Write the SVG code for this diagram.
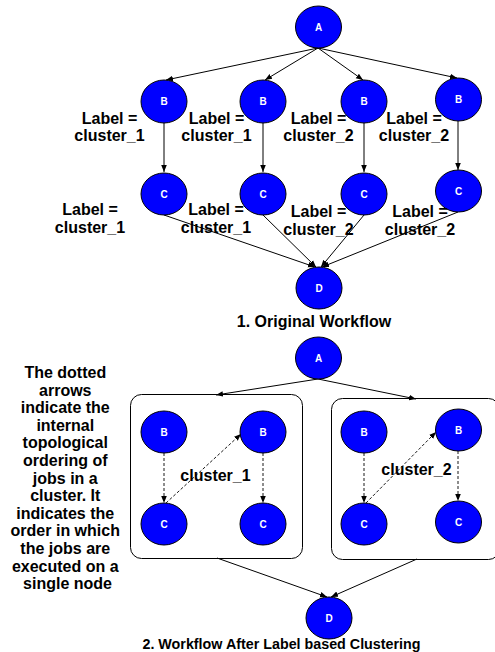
<svg xmlns="http://www.w3.org/2000/svg" width="495" height="652" viewBox="0 0 495 652">
  <style>
    .node ellipse { fill: #0000ff; stroke: #000; stroke-width: 1; }
    .node text { fill: #fff; font-family: "Liberation Sans", Arial, sans-serif; font-weight: bold; font-size: 10px; text-anchor: middle; }
    .lbl { fill: #000; font-family: "Liberation Sans", Arial, sans-serif; font-weight: bold; font-size: 16px; text-anchor: middle; }
    .edge { stroke: #000; stroke-width: 1; fill: none; marker-end: url(#arr); }
    .dash { stroke: #000; stroke-width: 0.9; fill: none; stroke-dasharray: 3 2; marker-end: url(#arr); }
    .box { fill: none; stroke: #000; stroke-width: 1; }
  </style>
  <defs>
    <marker id="arr" viewBox="0 0 10 10" refX="10" refY="5" markerWidth="7" markerHeight="7" markerUnits="userSpaceOnUse" orient="auto">
      <path d="M0,1 L10,5 L0,9 z" fill="#000"/>
    </marker>
  </defs>
  <rect width="495" height="652" fill="#fff"/>

  <!-- Part 1: original workflow -->
  <g id="connectors-1">
    <line class="edge" x1="318" y1="48" x2="166" y2="80"/>
    <line class="edge" x1="318" y1="48" x2="265" y2="80"/>
    <line class="edge" x1="318" y1="48" x2="363" y2="80"/>
    <line class="edge" x1="318" y1="48" x2="457" y2="78"/>
    <line class="edge" x1="164" y1="123" x2="164" y2="172"/>
    <line class="edge" x1="263" y1="123" x2="263" y2="172"/>
    <line class="edge" x1="364" y1="123" x2="364" y2="172"/>
    <line class="edge" x1="458" y1="121" x2="458" y2="170"/>
    <line class="edge" x1="164" y1="215" x2="315" y2="267"/>
    <line class="edge" x1="263" y1="215" x2="316" y2="267"/>
    <line class="edge" x1="364" y1="215" x2="321" y2="267"/>
    <line class="edge" x1="458" y1="212" x2="322" y2="267"/>
  </g>

  <g id="p1-A" class="node"><ellipse cx="318.5" cy="27" rx="23" ry="21"/><text x="318.5" y="31">A</text></g>
  <g id="p1-B1" class="node"><ellipse cx="164" cy="101.5" rx="23" ry="21.5"/><text x="164" y="105">B</text></g>
  <g id="p1-B2" class="node"><ellipse cx="263" cy="101.5" rx="23" ry="21.5"/><text x="263" y="105">B</text></g>
  <g id="p1-B3" class="node"><ellipse cx="364" cy="101.5" rx="23" ry="21.5"/><text x="364" y="105">B</text></g>
  <g id="p1-B4" class="node"><ellipse cx="458.5" cy="99.5" rx="23" ry="21.5"/><text x="458.5" y="103">B</text></g>
  <g id="p1-C1" class="node"><ellipse cx="164" cy="194" rx="23" ry="21"/><text x="164" y="197.5">C</text></g>
  <g id="p1-C2" class="node"><ellipse cx="263" cy="194" rx="23" ry="21"/><text x="263" y="197.5">C</text></g>
  <g id="p1-C3" class="node"><ellipse cx="364" cy="194" rx="23" ry="21"/><text x="364" y="197.5">C</text></g>
  <g id="p1-C4" class="node"><ellipse cx="458.5" cy="191" rx="23" ry="21"/><text x="458.5" y="194.5">C</text></g>
  <g id="p1-D" class="node"><ellipse cx="319" cy="288" rx="23" ry="21"/><text x="319" y="291.5">D</text></g>

  <g id="p1-labels">
    <text class="lbl" x="109.5" y="124">Label =</text>
    <text class="lbl" x="109.5" y="141">cluster_1</text>
    <text class="lbl" x="216.5" y="124">Label =</text>
    <text class="lbl" x="216.5" y="141">cluster_1</text>
    <text class="lbl" x="318.5" y="124">Label =</text>
    <text class="lbl" x="318.5" y="141">cluster_2</text>
    <text class="lbl" x="414" y="124">Label =</text>
    <text class="lbl" x="414" y="141">cluster_2</text>

    <text class="lbl" x="90" y="215">Label =</text>
    <text class="lbl" x="90" y="233">cluster_1</text>
    <text class="lbl" x="216" y="215">Label =</text>
    <text class="lbl" x="216" y="233">cluster_1</text>
    <text class="lbl" x="318.5" y="217">Label =</text>
    <text class="lbl" x="318.5" y="235">cluster_2</text>
    <text class="lbl" x="420" y="217">Label =</text>
    <text class="lbl" x="420" y="235">cluster_2</text>

    <text class="lbl" x="314" y="327">1. Original Workflow</text>
  </g>

  <!-- Part 2: after label based clustering -->
  <g id="cluster-1-box"><rect class="box" x="130.5" y="394.5" width="172" height="164" rx="11"/></g>
  <g id="cluster-2-box"><rect class="box" x="331.5" y="398.5" width="168" height="161" rx="11"/></g>

  <g id="connectors-2">
    <line class="edge" x1="318" y1="379" x2="216" y2="395"/>
    <line class="edge" x1="318" y1="379" x2="416" y2="399"/>
    <line class="edge" x1="217" y1="558" x2="327" y2="597"/>
    <line class="edge" x1="417" y1="559" x2="331" y2="597"/>
    <line class="dash" x1="164" y1="453" x2="164" y2="503"/>
    <line class="dash" x1="263" y1="453" x2="263" y2="503"/>
    <line class="dash" x1="166" y1="503" x2="241" y2="434"/>
    <line class="dash" x1="364" y1="453" x2="364" y2="503"/>
    <line class="dash" x1="458" y1="451" x2="458" y2="501"/>
    <line class="dash" x1="366" y1="503" x2="436" y2="432"/>
  </g>

  <g id="p2-A" class="node"><ellipse cx="318.5" cy="358" rx="23" ry="21"/><text x="318.5" y="361.5">A</text></g>
  <g id="p2-B1" class="node"><ellipse cx="164" cy="432" rx="23" ry="21"/><text x="164" y="435.5">B</text></g>
  <g id="p2-B2" class="node"><ellipse cx="263" cy="432" rx="23" ry="21"/><text x="263" y="435.5">B</text></g>
  <g id="p2-B3" class="node"><ellipse cx="364" cy="432" rx="23" ry="21"/><text x="364" y="435.5">B</text></g>
  <g id="p2-B4" class="node"><ellipse cx="458.5" cy="430" rx="23" ry="21"/><text x="458.5" y="433.5">B</text></g>
  <g id="p2-C1" class="node"><ellipse cx="164" cy="524" rx="23" ry="21"/><text x="164" y="527.5">C</text></g>
  <g id="p2-C2" class="node"><ellipse cx="263" cy="524" rx="23" ry="21"/><text x="263" y="527.5">C</text></g>
  <g id="p2-C3" class="node"><ellipse cx="364" cy="524" rx="23" ry="21"/><text x="364" y="527.5">C</text></g>
  <g id="p2-C4" class="node"><ellipse cx="458.5" cy="522" rx="23" ry="21"/><text x="458.5" y="525.5">C</text></g>
  <g id="p2-D" class="node"><ellipse cx="329" cy="618" rx="23" ry="21"/><text x="329" y="621.5">D</text></g>

  <g id="p2-labels">
    <text class="lbl" x="215.5" y="481">cluster_1</text>
    <text class="lbl" x="416.5" y="475">cluster_2</text>
    <text class="lbl" x="67.5" font-size="16">
      <tspan x="67.5" y="378">The dotted</tspan>
      <tspan x="67.5" y="395.6">arrows</tspan>
      <tspan x="67.5" y="413.2">indicate the</tspan>
      <tspan x="67.5" y="430.8">internal</tspan>
      <tspan x="67.5" y="448.4">topological</tspan>
      <tspan x="67.5" y="466">ordering of</tspan>
      <tspan x="67.5" y="483.6">jobs in a</tspan>
      <tspan x="67.5" y="501.2">cluster. It</tspan>
      <tspan x="67.5" y="518.8">indicates the</tspan>
      <tspan x="67.5" y="536.4">order in which</tspan>
      <tspan x="67.5" y="554">the jobs are</tspan>
      <tspan x="67.5" y="571.6">executed on a</tspan>
      <tspan x="67.5" y="589.2">single node</tspan>
    </text>
    <text class="lbl" x="281.5" y="649" style="font-size:14.3px">2. Workflow After Label based Clustering</text>
  </g>
</svg>
